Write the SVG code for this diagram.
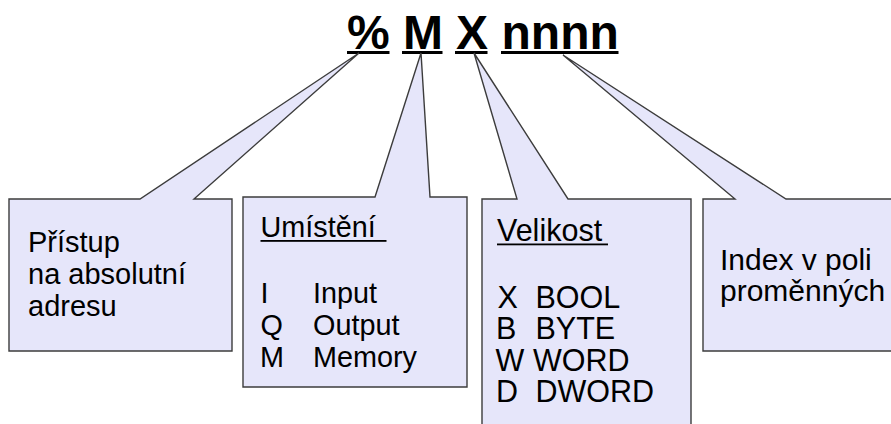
<svg xmlns="http://www.w3.org/2000/svg" width="891" height="424" viewBox="0 0 891 424">
<style>
.box{fill:#e6e6fa;stroke:#3c3c3c;stroke-width:1.4;stroke-linejoin:miter}
.t{font-family:"Liberation Sans",Arial,sans-serif;font-size:29px;fill:#000}
.t2{font-family:"Liberation Sans",Arial,sans-serif;font-size:28.8px;fill:#000}
.t3{font-family:"Liberation Sans",Arial,sans-serif;font-size:30.5px;fill:#000}
.t4{font-family:"Liberation Sans",Arial,sans-serif;font-size:30px;fill:#000}
.title{font-family:"Liberation Sans",Arial,sans-serif;font-size:48px;font-weight:bold;fill:#000}
.ul{fill:#000}
</style>
<rect width="891" height="424" fill="#fff"/>
<g id="title">
<text class="title" x="347" y="49">%</text>
<text class="title" x="403" y="49">M</text>
<text class="title" x="456" y="49">X</text>
<text class="title" x="501.5" y="49">nnnn</text>
<rect class="ul" x="347" y="51" width="42.5" height="3"/>
<rect class="ul" x="402" y="51" width="40.5" height="3"/>
<rect class="ul" x="455" y="51" width="32.5" height="3"/>
<rect class="ul" x="501" y="51" width="117.5" height="3"/>
</g>
<g id="connectors"></g>
<g id="node-pristup">
<path class="box" d="M9,199 L140,199 L359,53 L194,199 L232,199 L232,351 L9,351 Z"/>
<text class="t"><tspan x="28" y="252">Přístup</tspan><tspan x="28" y="284">na absolutní</tspan><tspan x="28" y="316">adresu</tspan></text>
</g>
<g id="node-umisteni">
<path class="box" d="M243,197 L375,197 L421,53 L430,197 L467,197 L467,387 L243,387 Z"/>
<text class="t2" x="260.5" y="237">Umístění </text>
<rect class="ul" x="260.5" y="240" width="126" height="1.8"/>
<text class="t2"><tspan x="260.5" y="303">I</tspan><tspan x="313" y="303">Input</tspan><tspan x="260.5" y="335">Q</tspan><tspan x="313" y="335">Output</tspan><tspan x="260" y="367">M</tspan><tspan x="313" y="367">Memory</tspan></text>
</g>
<g id="node-velikost">
<path class="box" d="M482,199 L517,199 L474,53 L568,199 L691,199 L691,430 L482,430 Z"/>
<text class="t3" x="497" y="241">Velikost</text>
<rect class="ul" x="497" y="243.5" width="111" height="1.8"/>
<text class="t3"><tspan x="497.5" y="307.5">X</tspan><tspan x="535.5" y="307.5">BOOL</tspan><tspan x="496" y="339">B</tspan><tspan x="535.5" y="339">BYTE</tspan><tspan x="495.5" y="370.5">W</tspan><tspan x="533" y="370.5">WORD</tspan><tspan x="496" y="402">D</tspan><tspan x="535.5" y="402">DWORD</tspan></text>
</g>
<g id="node-index">
<path class="box" d="M703,199 L735,199 L563,55 L786,199 L900,199 L900,351 L703,351 Z"/>
<text class="t4"><tspan x="720" y="270">Index v poli</tspan><tspan x="720" y="301">proměnných</tspan></text>
</g>
</svg>
